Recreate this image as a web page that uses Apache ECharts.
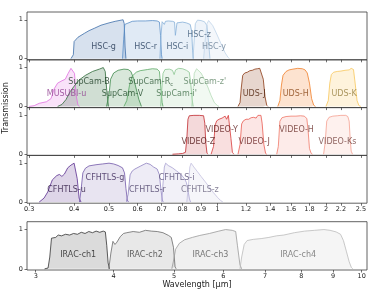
<!DOCTYPE html>
<html><head><meta charset="utf-8">
<script src="https://cdn.jsdelivr.net/npm/echarts@6/dist/echarts.min.js"></script>
<style>html,body{margin:0;padding:0;background:#fff}#c{width:374px;height:299px}</style>
</head><body><div id="c"></div>
<script>
// ---------- tick labels ----------
const TICKS_OPT = [0.3,0.4,0.5,0.6,0.7,0.8,0.9,1,1.2,1.4,1.6,1.8,2,2.2,2.5];
const TICKS_IRAC = [3,4,5,6,7,8,9,10];
const Y_TICKS = [0,1];
const X_RANGE_OPT = [0.296, 2.6];
const X_RANGE_IRAC = [2.905, 10.2];

// ---------- transmission curves [wavelength um, T] ----------
const hscG = [[0.392,0],[0.398,0.1],[0.400,0.44],[0.41,0.55],[0.427,0.65],[0.44,0.72],[0.455,0.78],[0.475,0.86],[0.50,0.92],[0.52,0.96],[0.54,0.99],[0.547,1.0],[0.551,0.9],[0.554,0.3],[0.557,0]];
const hscR = [[0.545,0],[0.549,0.5],[0.553,0.88],[0.56,0.93],[0.58,0.96],[0.60,0.97],[0.63,0.97],[0.66,0.98],[0.68,0.97],[0.69,0.94],[0.695,0.6],[0.699,0.1],[0.702,0]];
const hscI = [[0.692,0],[0.697,0.6],[0.702,0.95],[0.708,0.97],[0.712,0.88],[0.717,0.96],[0.73,0.97],[0.75,0.96],[0.76,0.94],[0.764,0.6],[0.768,0.55],[0.772,0.92],[0.78,0.95],[0.80,0.94],[0.82,0.92],[0.84,0.88],[0.848,0.7],[0.853,0.2],[0.857,0]];
const hscZ = [[0.855,0],[0.862,0.5],[0.868,0.9],[0.88,0.99],[0.90,0.98],[0.92,0.95],[0.935,0.85],[0.945,0.4],[0.953,0]];
const hscY = [[0.915,0],[0.925,0.5],[0.935,0.9],[0.945,0.98],[0.955,0.97],[0.97,0.85],[0.99,0.68],[1.01,0.5],[1.03,0.32],[1.05,0.15],[1.07,0.03],[1.08,0]];

const musubiU = [[0.300,0],[0.31,0.02],[0.32,0.08],[0.335,0.12],[0.345,0.2],[0.352,0.45],[0.36,0.6],[0.37,0.66],[0.378,0.7],[0.385,0.85],[0.392,0.98],[0.397,1.0],[0.401,0.85],[0.405,0.3],[0.41,0.03],[0.414,0]];
const supB = [[0.36,0],[0.37,0.05],[0.38,0.18],[0.39,0.38],[0.40,0.52],[0.413,0.68],[0.43,0.8],[0.45,0.9],[0.47,0.96],[0.482,1.0],[0.488,0.9],[0.493,0.4],[0.498,0]];
const supV = [[0.492,0],[0.50,0.3],[0.505,0.7],[0.515,0.86],[0.53,0.93],[0.55,0.96],[0.565,0.95],[0.575,0.9],[0.585,0.72],[0.595,0.45],[0.605,0.18],[0.615,0]];
const supRc = [[0.55,0],[0.56,0.15],[0.57,0.55],[0.58,0.78],[0.595,0.88],[0.61,0.92],[0.64,0.95],[0.66,0.97],[0.68,0.96],[0.69,0.9],[0.696,0.5],[0.702,0.1],[0.706,0]];
const supI = [[0.695,0],[0.70,0.4],[0.706,0.85],[0.715,0.95],[0.735,0.96],[0.75,0.93],[0.758,0.82],[0.765,0.94],[0.78,0.98],[0.80,0.97],[0.82,0.93],[0.835,0.88],[0.843,0.6],[0.85,0.2],[0.856,0]];
const supZ = [[0.848,0],[0.855,0.4],[0.862,0.85],[0.875,0.97],[0.885,0.95],[0.90,0.86],[0.92,0.7],[0.94,0.5],[0.96,0.28],[0.98,0.1],[1.0,0.02],[1.01,0]];
const udsJ = [[1.14,0],[1.155,0.1],[1.165,0.5],[1.175,0.8],[1.19,0.86],[1.21,0.88],[1.23,0.92],[1.25,0.93],[1.27,0.96],[1.29,0.97],[1.31,0.98],[1.325,0.95],[1.34,0.7],[1.355,0.25],[1.37,0.03],[1.38,0]];
const udsH = [[1.47,0],[1.49,0.15],[1.505,0.55],[1.52,0.8],[1.55,0.9],[1.58,0.94],[1.62,0.96],[1.67,0.98],[1.72,0.97],[1.75,0.94],[1.775,0.86],[1.80,0.6],[1.825,0.2],[1.85,0.03],[1.87,0]];
const udsK = [[2.0,0],[2.03,0.15],[2.05,0.6],[2.07,0.82],[2.1,0.88],[2.15,0.9],[2.2,0.91],[2.26,0.93],[2.32,0.94],[2.35,0.98],[2.37,1.0],[2.385,0.95],[2.41,0.6],[2.44,0.15],[2.47,0.02],[2.5,0]];

const videoZ = [[0.75,0],[0.78,0.01],[0.80,0.02],[0.815,0.05],[0.822,0.4],[0.828,0.9],[0.835,0.99],[0.86,1.0],[0.89,1.0],[0.915,0.99],[0.922,0.8],[0.928,0.3],[0.935,0.03],[0.94,0]];
const videoY = [[0.96,0],[0.975,0.2],[0.985,0.75],[0.995,0.86],[1.01,0.9],[1.03,0.93],[1.05,0.98],[1.06,0.9],[1.072,1.0],[1.08,0.95],[1.09,0.4],[1.1,0.05],[1.11,0]];
const videoJ = [[1.14,0],[1.155,0.25],[1.167,0.78],[1.18,0.86],[1.2,0.9],[1.22,0.9],[1.24,0.94],[1.26,0.95],[1.28,0.93],[1.295,1.0],[1.31,0.96],[1.32,1.0],[1.33,0.8],[1.345,0.25],[1.36,0.02],[1.37,0]];
const videoH = [[1.46,0],[1.475,0.2],[1.49,0.85],[1.51,0.94],[1.55,0.97],[1.6,0.98],[1.65,0.98],[1.7,0.99],[1.74,0.98],[1.77,0.92],[1.785,0.6],[1.8,0.15],[1.82,0.02],[1.835,0]];
const videoKs = [[1.97,0],[1.99,0.3],[2.01,0.85],[2.04,0.95],[2.09,0.98],[2.15,0.99],[2.2,1.0],[2.27,1.0],[2.3,0.97],[2.32,0.85],[2.335,0.4],[2.35,0.08],[2.37,0]];

const cfhtU = [[0.32,0],[0.33,0.1],[0.338,0.26],[0.348,0.57],[0.358,0.68],[0.364,0.71],[0.37,0.66],[0.376,0.72],[0.384,0.88],[0.392,0.95],[0.4,1.0],[0.404,0.96],[0.408,0.6],[0.413,0.1],[0.418,0]];
const cfhtG = [[0.414,0],[0.418,0.3],[0.423,0.75],[0.43,0.87],[0.44,0.93],[0.46,0.96],[0.48,0.98],[0.5,1.0],[0.515,0.98],[0.53,0.94],[0.545,0.88],[0.552,0.75],[0.557,0.35],[0.562,0.05],[0.566,0]];
const cfhtR = [[0.558,0],[0.565,0.2],[0.572,0.7],[0.58,0.8],[0.59,0.85],[0.61,0.92],[0.625,0.97],[0.635,1.0],[0.65,0.97],[0.665,0.9],[0.68,0.85],[0.69,0.7],[0.697,0.3],[0.703,0.05],[0.707,0]];
const cfhtI = [[0.7,0],[0.705,0.4],[0.712,0.9],[0.718,1.0],[0.73,0.94],[0.75,0.88],[0.77,0.8],[0.79,0.72],[0.81,0.6],[0.82,0.5],[0.828,0.3],[0.836,0.08],[0.842,0]];
const cfhtZ = [[0.822,0],[0.83,0.4],[0.838,0.9],[0.845,1.0],[0.86,0.9],[0.88,0.78],[0.9,0.66],[0.925,0.52],[0.95,0.38],[0.975,0.24],[1.0,0.12],[1.02,0.04],[1.035,0]];

const irac1 = [[3.1,0],[3.14,0.02],[3.16,0.3],[3.18,0.78],[3.2,0.82],[3.23,0.8],[3.26,0.86],[3.3,0.84],[3.35,0.88],[3.4,0.86],[3.45,0.9],[3.5,0.88],[3.55,0.93],[3.6,0.9],[3.65,0.95],[3.7,0.92],[3.75,0.96],[3.8,0.93],[3.85,0.96],[3.88,0.94],[3.9,0.6],[3.92,0.15],[3.94,0]];
const irac2 = [[3.93,0],[3.96,0.4],[3.99,0.7],[4.02,0.62],[4.05,0.68],[4.1,0.82],[4.15,0.9],[4.2,0.92],[4.3,0.95],[4.4,0.93],[4.5,0.98],[4.6,0.96],[4.7,0.95],[4.8,0.92],[4.9,0.85],[4.95,0.8],[4.99,0.55],[5.02,0.05],[5.04,0]];
const irac3 = [[4.96,0],[4.99,0.2],[5.03,0.5],[5.1,0.65],[5.2,0.74],[5.35,0.8],[5.5,0.85],[5.7,0.9],[5.9,0.96],[6.05,1.0],[6.2,0.98],[6.28,0.95],[6.32,0.6],[6.38,0.1],[6.42,0]];
const irac4 = [[6.38,0],[6.42,0.3],[6.48,0.62],[6.55,0.72],[6.7,0.75],[6.9,0.77],[7.1,0.8],[7.3,0.84],[7.5,0.86],[7.8,0.92],[8.1,0.96],[8.4,0.98],[8.7,1.0],[8.9,0.98],[9.1,0.94],[9.25,0.88],[9.35,0.72],[9.45,0.45],[9.55,0.18],[9.63,0.03],[9.68,0]];

// ---------- filters: panel, name, curve, styles, label anchor ----------
const FILTERS = [
  [0,'HSC-g',hscG,'#3d6eaa','rgba(61,110,170,0.29)','#1c2f4c',[0.483,0.30]],
  [0,'HSC-r',hscR,'#5b8fc8','rgba(91,143,200,0.27)','#233c5c',[0.632,0.30]],
  [0,'HSC-i',hscI,'#86b0d8','rgba(134,176,216,0.27)','#34506e',[0.774,0.30]],
  [0,'HSC-z',hscZ,'#a8c6e2','rgba(168,198,226,0.27)','#45607c',[0.889,0.60]],
  [0,'HSC-y',hscY,'#c2d6ea','rgba(194,214,234,0.27)','#6c8298',[0.978,0.30]],
  [1,'MUSUBI-u',musubiU,'#e070e0','rgba(230,140,230,0.36)','#8e3c8e',[0.381,0.33]],
  [1,'SupCam-B',supB,'#2e6b3a','rgba(46,107,58,0.32)','#15361d',[0.44,0.63]],
  [1,'SupCam-V',supV,'#3f8a4c','rgba(63,138,76,0.29)','#1f4a28',[0.545,0.33]],
  [1,'SupCam-Rc',supRc,'#5aa865','rgba(90,168,101,0.25)','#2f5a38',[0.653,0.63]],
  [1,"SupCam-i'",supI,'#8cc792','rgba(140,199,146,0.25)','#43704b',[0.770,0.33]],
  [1,"SupCam-z'",supZ,'#b5dcb8','rgba(181,220,184,0.25)','#5f8465',[0.922,0.63]],
  [1,'UDS-J',udsJ,'#8b3a14','rgba(160,90,60,0.36)','#4e200a',[1.264,0.33]],
  [1,'UDS-H',udsH,'#f07f2a','rgba(245,140,60,0.34)','#8a4616',[1.649,0.33]],
  [1,'UDS-K',udsK,'#f7c65a','rgba(250,200,90,0.30)','#968040',[2.246,0.33]],
  [2,'VIDEO-Z',videoZ,'#c0282d','rgba(192,40,45,0.25)','#4e1212',[0.885,0.305]],
  [2,'VIDEO-Y',videoY,'#d83a3a','rgba(216,58,58,0.23)','#5e1a1a',[1.027,0.62]],
  [2,'VIDEO-J',videoJ,'#e85a50','rgba(232,90,80,0.21)','#6a2626',[1.264,0.305]],
  [2,'VIDEO-H',videoH,'#f07a6a','rgba(240,122,106,0.21)','#6e3430',[1.658,0.62]],
  [2,'VIDEO-Ks',videoKs,'#f5a090','rgba(245,160,144,0.21)','#764440',[2.153,0.305]],
  [3,'CFHTLS-u',cfhtU,'#5a2d91','rgba(100,60,150,0.31)','#28123f',[0.381,0.30]],
  [3,'CFHTLS-g',cfhtG,'#7157a8','rgba(113,87,168,0.23)','#3a2458',[0.487,0.61]],
  [3,'CFHTLS-r',cfhtR,'#8f82c0','rgba(143,130,192,0.21)','#4a3e68',[0.639,0.30]],
  [3,'CFHTLS-i',cfhtI,'#aaa2d2','rgba(170,162,210,0.21)','#564c76',[0.770,0.61]],
  [3,'CFHTLS-z',cfhtZ,'#c4c0e0','rgba(196,192,224,0.21)','#6a6480',[0.894,0.30]],
  [4,'IRAC-ch1',irac1,'#333333','rgba(120,120,120,0.38)','#1e1e1e',[3.51,0.35]],
  [4,'IRAC-ch2',irac2,'#6a6a6a','rgba(150,150,150,0.32)','#3c3c3c',[4.49,0.35]],
  [4,'IRAC-ch3',irac3,'#9a9a9a','rgba(170,170,170,0.26)','#585858',[5.72,0.35]],
  [4,'IRAC-ch4',irac4,'#bbbbbb','rgba(190,190,190,0.22)','#6c6c6c',[7.91,0.35]]
];

const FONT = 'DejaVu Sans';
const lg = v => Math.log10(v);
const fmt = v => String(parseFloat(Math.pow(10, v).toPrecision(3)));

const PANEL_H = 47.8;
const grids = [], xAxes = [], yAxes = [];
for (let i = 0; i < 5; i++) {
  const top = i < 4 ? 12 + i * PANEL_H : 221.7;
  const h = i < 4 ? PANEL_H : 48.3;
  grids.push({left: 27, width: 340, top: top, height: h, show: true, borderColor: '#3a3a3a', borderWidth: 0.8, backgroundColor: 'transparent', containLabel: false});
  const irac = i === 4;
  const ticks = (irac ? TICKS_IRAC : TICKS_OPT).map(lg);
  const range = irac ? X_RANGE_IRAC : X_RANGE_OPT;
  xAxes.push({
    type: 'value', gridIndex: i, min: lg(range[0]), max: lg(range[1]), position: 'bottom',
    axisLine: {show: false, onZero: false},
    splitLine: {show: false},
    axisTick: {show: true, length: 2.5, customValues: ticks, lineStyle: {color: '#333', width: 0.7}},
    axisLabel: {show: i >= 3, customValues: ticks, formatter: fmt, fontFamily: FONT, fontSize: 6.5, color: '#222', margin: 3},
    name: irac ? 'Wavelength [\u03bcm]' : '', nameLocation: 'middle', nameGap: 9,
    nameTextStyle: {fontFamily: FONT, fontSize: 8, color: '#222', verticalAlign: 'top'}
  });
  yAxes.push({
    type: 'value', gridIndex: i, min: -0.03, max: 1.2, position: 'left',
    axisLine: {show: false, onZero: false}, splitLine: {show: false},
    axisTick: {show: true, length: 2.5, customValues: Y_TICKS, lineStyle: {color: '#333', width: 0.7}},
    axisLabel: {show: true, customValues: Y_TICKS, fontFamily: FONT, fontSize: 6.5, color: '#222', margin: 4}
  });
}

const series = [];
FILTERS.forEach(f => {
  const [p, name, curve, line, fill] = f;
  series.push({
    type: 'line', name: name, xAxisIndex: p, yAxisIndex: p,
    data: curve.map(d => [lg(d[0]), d[1]]),
    showSymbol: false, symbol: 'none', silent: true, animation: false,
    lineStyle: {color: line, width: 0.8},
    areaStyle: {color: fill, origin: 0},
    z: 2
  });
});
for (let p = 0; p < 5; p++) {
  const items = FILTERS.filter(f => f[0] === p).map(f => {
    const name = f[1];
    const txt = name === 'SupCam-Rc' ? '{a|SupCam-R}{s|c}' : name;
    return {value: [lg(f[6][0]), f[6][1]], label: {formatter: txt, color: f[5], rich: {a: {color: f[5], fontSize: 8, fontFamily: FONT}, s: {color: f[5], fontSize: 5.5, fontFamily: FONT, padding: [5, 0, 0, 0]}}}};
  });
  series.push({
    type: 'scatter', xAxisIndex: p, yAxisIndex: p, data: items,
    symbolSize: 1, itemStyle: {color: 'rgba(0,0,0,0)'}, silent: true, animation: false,
    label: {show: true, position: 'inside', fontFamily: FONT, fontSize: 8},
    z: 5
  });
}

const chart = echarts.init(document.getElementById('c'), null, {renderer: 'canvas'});
chart.setOption({
  backgroundColor: '#fff',
  animation: false,
  grid: grids, xAxis: xAxes, yAxis: yAxes, series: series,
  graphic: [{type: 'text', x: 6, y: 108, rotation: Math.PI / 2,
    style: {text: 'Transmission', font: '8px "DejaVu Sans"', fill: '#222', textAlign: 'center', textVerticalAlign: 'middle'}}]
});
</script></body></html>
